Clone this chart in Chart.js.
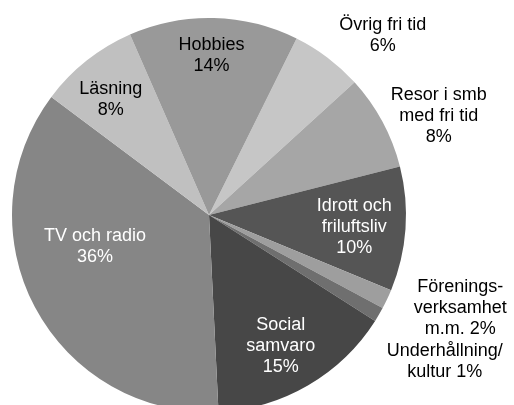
<!DOCTYPE html>
<html>
<head>
<meta charset="utf-8">
<script src="https://cdn.jsdelivr.net/npm/chart.js@4"></script>
<style>
    html, body { margin: 0; padding: 0; background: #fff; overflow: hidden; }
    #wrap { width: 514px; height: 405px; overflow: hidden; }
</style>
</head>
<body>
<div id="wrap"><canvas id="pieChart" width="514" height="432"></canvas></div>
<script>
// --- DATE ---
const categories = ['Övrig fri tid', 'Resor i smb med fri tid', 'Idrott och friluftsliv', 'Föreningsverksamhet m.m.',
    'Underhållning/kultur', 'Social samvaro', 'TV och radio', 'Läsning', 'Hobbies'];
const shares = [5.9, 7.8, 10.2, 1.6, 1.2, 15.2, 36.0, 8.2, 13.9];
const labelText = ['Övrig fri tid\n{p}', 'Resor i smb\nmed fri tid\n{p}', 'Idrott och\nfriluftsliv\n{p}',
    'Förenings-\nverksamhet\nm.m. {p}', 'Underhållning/\nkultur {p}', 'Social\nsamvaro\n{p}',
    'TV och radio\n{p}', 'Läsning\n{p}', 'Hobbies\n{p}'];

// culori si plasarea etichetelor (raza relativa + corectie de unghi in grade)
const sliceColors = ['#c6c6c6', '#a6a6a6', '#555555', '#9e9e9e', '#6f6f6f', '#474747', '#868686', '#c0c0c0', '#999999'];
const textColors = ['#000', '#000', '#fff', '#000', '#000', '#fff', '#fff', '#000', '#000'];
const labelPlace = [
    { r: 1.27, da: 7 }, { r: 1.27, da: 5 }, { r: 0.74, da: 0.6 }, { r: 1.36, da: -5 },
    { r: 1.41, da: 1.6 }, { r: 0.76, da: 1.5 }, { r: 0.6, da: 12.5 }, { r: 0.77, da: -2 }, { r: 0.81, da: -0.5 }
];

const sliceLabels = {
    id: 'sliceLabels',
    afterDatasetsDraw(chart) {
        const ctx = chart.ctx;
        const arcs = chart.getDatasetMeta(0).data;
        ctx.save();
        ctx.font = '18px "Liberation Sans", Arial, sans-serif';
        ctx.textAlign = 'center';
        ctx.textBaseline = 'middle';
        arcs.forEach((arc, i) => {
            const { x, y, startAngle, endAngle, outerRadius } = arc.getProps(['x', 'y', 'startAngle', 'endAngle', 'outerRadius'], true);
            const a = (startAngle + endAngle) / 2 + labelPlace[i].da * Math.PI / 180;
            const cx = x + Math.cos(a) * outerRadius * labelPlace[i].r;
            const cy = y + Math.sin(a) * outerRadius * labelPlace[i].r;
            const lines = labelText[i].replace('{p}', Math.round(shares[i]) + '%').split('\n');
            const lh = 21;
            ctx.fillStyle = textColors[i];
            lines.forEach((line, k) => {
                ctx.fillText(line, cx, cy + (k - (lines.length - 1) / 2) * lh);
            });
        });
        ctx.restore();
    }
};

new Chart(document.getElementById('pieChart').getContext('2d'), {
    type: 'pie',
    data: {
        labels: categories,
        datasets: [{ data: shares, backgroundColor: sliceColors, borderWidth: 0 }]
    },
    options: {
        responsive: false, animation: false,
        rotation: 26.4,
        layout: { padding: { left: 12, top: 18, right: 108, bottom: 20 } },
        plugins: { legend: { display: false }, tooltip: { enabled: false } }
    },
    plugins: [sliceLabels]
});
</script>
</body>
</html>
